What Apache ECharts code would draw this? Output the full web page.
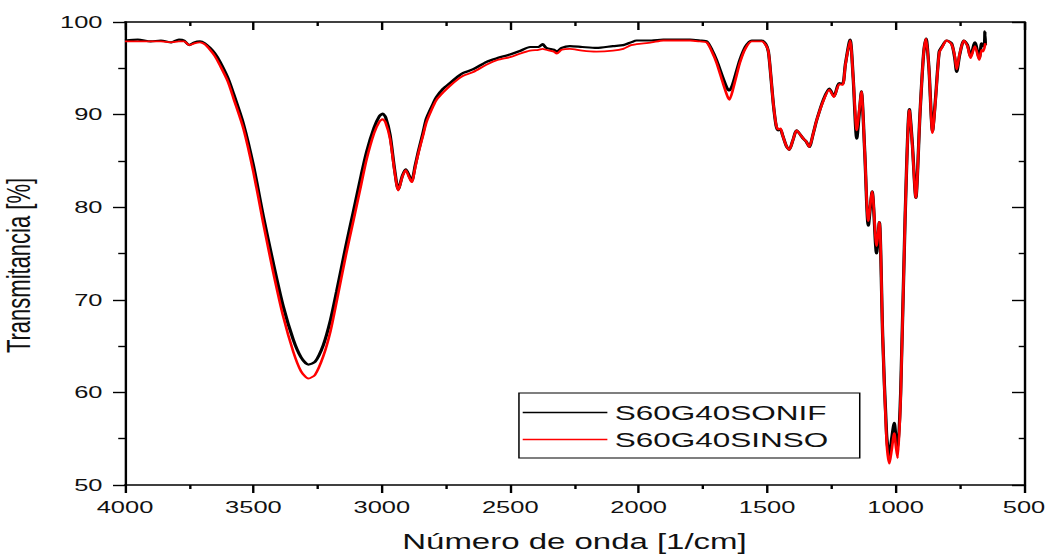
<!DOCTYPE html>
<html>
<head>
<meta charset="utf-8">
<script src="https://cdn.jsdelivr.net/npm/echarts@6/dist/echarts.min.js"></script>
<style>
  html, body { margin: 0; padding: 0; background: #fff; overflow: hidden; }
  /* the figure is drawn 700px wide and stretched horizontally to fill the window */
  #chart { width: 700px; height: 556px; transform: scaleX(1.49857); transform-origin: 0 0; }
</style>
</head>
<body>
<div id="chart"></div>
<script>
// FTIR spectra: wavenumber (1/cm) vs transmittance (%)
const wavenumber = [
  4000, 3950, 3900, 3860, 3820, 3790, 3770, 3750, 3730, 3708, 3690, 3669, 3650, 3630, 3600,
  3578, 3539, 3500, 3462, 3423, 3384, 3345, 3315, 3286, 3260, 3228, 3200, 3176, 3140, 3111,
  3080, 3059, 3030, 3010, 2997, 2985, 2968, 2950, 2936, 2920, 2907, 2895, 2884, 2870, 2858,
  2840, 2826, 2800, 2787, 2761, 2735, 2700, 2683, 2644, 2592, 2550, 2501, 2460, 2423, 2390,
  2374, 2360, 2330, 2319, 2300, 2268, 2220, 2164, 2100, 2060, 2030, 2008, 1950, 1904, 1800,
  1761, 1735, 1715, 1697, 1671, 1655, 1647, 1635, 1620, 1606, 1585, 1560, 1521, 1505, 1495,
  1485, 1476, 1465, 1457, 1448, 1440, 1425, 1414, 1400, 1385, 1370, 1359, 1348, 1336, 1320,
  1307, 1281, 1258, 1240, 1219, 1206, 1195, 1177, 1165, 1151, 1140, 1133, 1120, 1106, 1091,
  1074, 1063, 1050, 1035, 1024, 1015, 1005, 998, 992, 980, 963, 946, 935, 921, 905,
  891, 881, 870, 856, 845, 830, 820, 801, 782, 770, 762, 750, 734, 720, 708,
  691, 674, 665, 660, 654, 652, 650
];

const sonif = [
  98.0, 98.1, 97.9, 98.0, 97.8, 98.1, 98.0, 97.5, 97.8, 97.9, 97.7, 97.2, 96.6, 95.7, 94.0,
  92.3, 89.0, 84.5, 79.1, 74.0, 69.3, 65.7, 63.8, 63.0, 63.3, 65.1, 67.8, 70.9, 75.8, 79.5,
  83.5, 86.0, 88.6, 89.8, 90.1, 89.7, 87.8, 84.0, 81.9, 83.4, 84.1, 83.5, 82.8, 84.5, 86.0,
  88.0, 89.6, 91.2, 91.9, 92.8, 93.4, 94.2, 94.5, 94.9, 95.7, 96.1, 96.5, 96.9, 97.3, 97.3,
  97.6, 97.2, 97.0, 96.8, 97.2, 97.4, 97.3, 97.2, 97.4, 97.5, 97.8, 98.0, 98.0, 98.1, 98.1,
  98.0, 97.9, 97.0, 95.9, 93.9, 92.8, 92.6, 93.2, 94.6, 95.9, 97.3, 98.0, 98.0, 97.6, 96.8,
  94.0, 91.2, 88.8, 88.3, 88.4, 87.8, 86.6, 86.2, 87.2, 88.3, 87.8, 87.4, 87.1, 86.5, 88.0,
  89.4, 91.6, 92.8, 92.0, 93.4, 93.3, 95.5, 98.1, 94.0, 87.4, 90.5, 92.5, 86.0, 78.0, 81.7,
  75.0, 78.4, 66.0, 55.5, 53.1, 55.0, 56.7, 55.0, 53.8, 60.0, 78.6, 90.6, 87.0, 81.0, 90.0,
  96.5, 98.2, 95.0, 88.2, 91.5, 96.8, 97.3, 98.0, 97.7, 96.2, 94.6, 96.5, 98.0, 97.5, 96.3,
  97.8, 96.1, 97.7, 97.4, 97.6, 99.0, 97.5
];

const sinso = [
  97.9, 97.9, 97.9, 97.9, 97.8, 97.9, 97.9, 97.5, 97.7, 97.8, 97.6, 97.0, 96.3, 95.3, 93.6,
  91.8, 88.5, 83.8, 78.3, 73.0, 68.2, 64.4, 62.3, 61.5, 61.9, 63.9, 66.6, 69.8, 74.8, 78.5,
  82.5, 85.2, 88.0, 89.2, 89.5, 89.1, 87.4, 83.8, 81.8, 83.3, 84.0, 83.3, 82.7, 84.3, 85.8,
  87.7, 89.2, 90.9, 91.6, 92.4, 93.1, 93.9, 94.2, 94.6, 95.4, 95.9, 96.2, 96.6, 96.9, 97.0,
  97.1, 97.0, 96.8, 96.6, 97.0, 97.1, 96.9, 96.8, 96.9, 97.1, 97.5, 97.6, 97.8, 98.0, 98.0,
  97.9, 97.8, 96.8, 95.6, 93.3, 92.0, 91.6, 92.5, 94.1, 95.6, 97.1, 97.9, 97.9, 97.5, 96.8,
  94.0, 91.2, 88.9, 88.4, 88.5, 87.8, 86.6, 86.2, 87.2, 88.3, 87.8, 87.4, 87.1, 86.5, 88.0,
  89.4, 91.5, 92.7, 91.9, 93.3, 93.2, 95.4, 98.0, 94.0, 88.3, 90.8, 92.5, 86.0, 78.5, 81.7,
  75.8, 78.4, 66.0, 54.8, 52.3, 53.8, 55.6, 54.0, 52.9, 59.5, 78.6, 90.5, 86.8, 81.0, 90.0,
  96.5, 98.2, 95.0, 88.0, 91.3, 96.7, 97.2, 98.0, 97.6, 96.4, 94.9, 96.6, 98.0, 97.4, 96.1,
  97.4, 95.9, 97.0, 96.8, 97.2, 97.5, 97.7
];

const seriesNames = ['S60G40SONIF', 'S60G40SINSO'];
const seriesColors = ['#000000', '#ff0000'];

const xTitle = 'Número de onda [1/cm]';
const yTitle = 'Transmitancia [%]';

const toPairs = ys => wavenumber.map((w, i) => [w, ys[i]]);

const fontFamily = 'Liberation Sans, Arial, sans-serif';
const labelFont = { fontFamily: fontFamily, fontSize: 17, color: '#111' };
const axisLine = { show: true, onZero: false, lineStyle: { color: '#000', width: 1.6 } };

const xBase = { type: 'value', min: 500, max: 4000, interval: 500, inverse: true, splitLine: { show: false } };
const yBase = { type: 'value', min: 50, max: 100, interval: 10, splitLine: { show: false } };

const chart = echarts.init(document.getElementById('chart'), null, { renderer: 'svg' });

chart.setOption({
  animation: false,
  backgroundColor: '#fff',
  grid: { left: 83.4, right: 16.7, top: 22, bottom: 71, containLabel: false, outerBoundsMode: 'none' },
  legend: {
    orient: 'vertical',
    left: 346.3,
    top: 393,
    padding: [9, 21, 8, 2.5],
    icon: 'rect',
    itemWidth: 56.5,
    itemHeight: 1.6,
    itemGap: 6,
    borderColor: '#000',
    borderWidth: 1,
    borderRadius: 0,
    backgroundColor: '#fff',
    textStyle: { fontFamily: fontFamily, fontSize: 21, color: '#111' },
    data: seriesNames
  },
  xAxis: [
    Object.assign({}, xBase, {
      position: 'bottom',
      name: xTitle,
      nameLocation: 'middle',
      nameGap: 46,
      nameTextStyle: { fontFamily: fontFamily, fontSize: 22, color: '#111' },
      axisLine: axisLine,
      axisTick: { show: true, inside: false, length: 8, lineStyle: { color: '#000', width: 1.6 } },
      minorTick: { show: true, splitNumber: 2, length: 4, lineStyle: { color: '#000', width: 1.6 } },
      axisLabel: Object.assign({ margin: 14, formatter: v => String(v) }, labelFont)
    }),
    Object.assign({}, xBase, {
      position: 'top',
      axisLine: axisLine,
      axisTick: { show: true, inside: true, length: 8, lineStyle: { color: '#000', width: 1.6 } },
      minorTick: { show: true, splitNumber: 2, length: 4, lineStyle: { color: '#000', width: 1.6 } },
      axisLabel: { show: false }
    })
  ],
  yAxis: [
    Object.assign({}, yBase, {
      position: 'left',
      name: yTitle,
      nameLocation: 'middle',
      nameRotate: 90,
      nameGap: 60,
      nameTextStyle: { fontFamily: fontFamily, fontSize: 22, color: '#111', padding: [0, 24, 0, 0] },
      axisLine: axisLine,
      axisTick: { show: true, inside: false, length: 8, lineStyle: { color: '#000', width: 1.4 } },
      minorTick: { show: true, splitNumber: 2, length: 4.5, lineStyle: { color: '#000', width: 1.4 } },
      axisLabel: Object.assign({ margin: 15 }, labelFont)
    }),
    Object.assign({}, yBase, {
      position: 'right',
      axisLine: axisLine,
      axisTick: { show: true, inside: true, length: 8, lineStyle: { color: '#000', width: 1.4 } },
      minorTick: { show: true, splitNumber: 2, length: 3.5, lineStyle: { color: '#000', width: 1.4 } },
      axisLabel: { show: false }
    })
  ],
  series: [
    {
      name: seriesNames[0], type: 'line', xAxisIndex: 0, yAxisIndex: 0,
      data: toPairs(sonif), symbol: 'none', showSymbol: false, smooth: 0.25,
      itemStyle: { color: seriesColors[0] },
      lineStyle: { color: seriesColors[0], width: 2.2 }
    },
    {
      name: seriesNames[1], type: 'line', xAxisIndex: 0, yAxisIndex: 0,
      data: toPairs(sinso), symbol: 'none', showSymbol: false, smooth: 0.25,
      itemStyle: { color: seriesColors[1] },
      lineStyle: { color: seriesColors[1], width: 1.8 }
    }
  ]
});
</script>
</body>
</html>
